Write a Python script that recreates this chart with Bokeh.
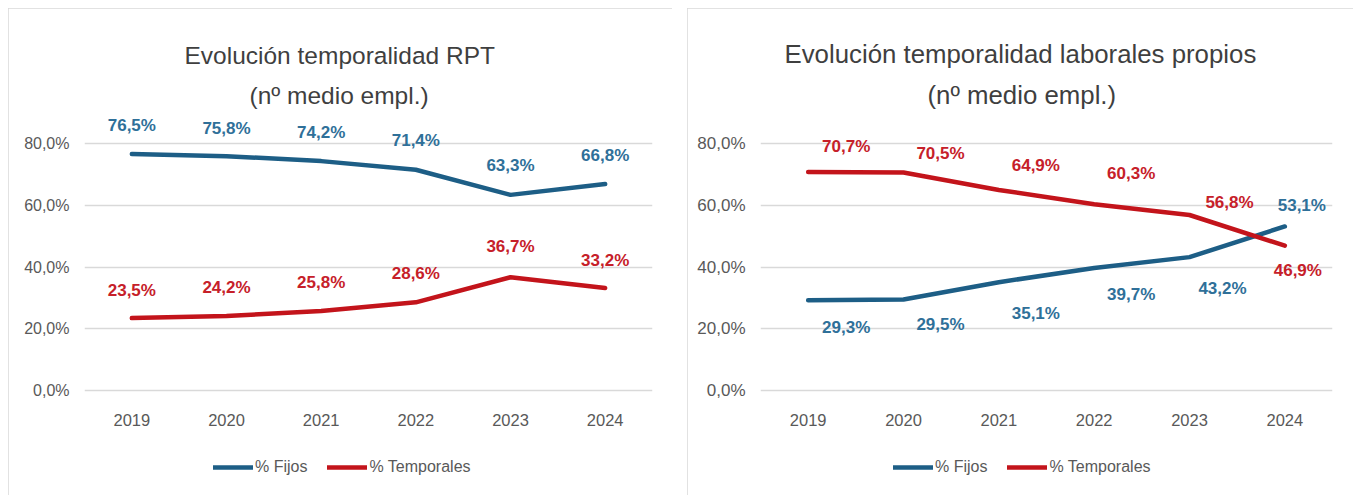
from bokeh.plotting import figure
from bokeh.models import (ColumnDataSource, FactorRange, Range1d, LabelSet, Legend,
                          LegendItem, Title, FixedTicker, Spacer)
from bokeh.layouts import row, column
from bokeh.embed import file_html
from bokeh.resources import INLINE
from bokeh.core.properties import value

# ---------------- data ----------------
years = ["2019", "2020", "2021", "2022", "2023", "2024"]
rpt_fijos = [76.5, 75.8, 74.2, 71.4, 63.3, 66.8]
rpt_temporales = [23.5, 24.2, 25.8, 28.6, 36.7, 33.2]
lab_fijos = [29.3, 29.5, 35.1, 39.7, 43.2, 53.1]
lab_temporales = [70.7, 70.5, 64.9, 60.3, 56.8, 46.9]
y_ticks = [0, 20, 40, 60, 80]
y_tick_labels = ["0,0%", "20,0%", "40,0%", "60,0%", "80,0%"]
title_left = "Evolución temporalidad RPT"
title_right = "Evolución temporalidad laborales propios"
subtitle = "(nº medio empl.)"
series_names = ["% Fijos", "% Temporales"]

# ---------------- label placement (px) ----------------
left_fijos_dx = [0, 0, 0, 0, 0, 0]
left_fijos_dy = [28, 28, 29, 29, 29, 29]
left_temp_dx = [0, 0, 0, 0, 0, 0]
left_temp_dy = [28, 28, 28, 29, 31, 28]
right_fijos_dx = [38, 37, 37, 37, 33, 17]
right_fijos_dy = [-27, -25, -31, -27, -31, 21]
right_temp_dx = [38, 37, 37, 37, 40, 13]
right_temp_dy = [25, 19, 24, 31, 12, -25]

FONT = "Liberation Sans"
BLUE_LINE = "#1D5E86"
BLUE_TEXT = "#2F7099"
RED_LINE = "#C3141B"
RED_TEXT = "#C62029"
GRAY = "#595959"
TITLE_GRAY = "#3F3F3F"
GRID = "#D9D9D9"


def fmt(v):
    return ("%.1f" % v).replace(".", ",") + "%"


def make_chart(title, fijos, temporales, f_dx, f_dy, t_dx, t_dy,
               width, border_left, border_right, title_off, sub_off, legend_x,
               title_size, tick_size):
    p = figure(x_range=FactorRange(*years), y_range=Range1d(-31.2, 89.9),
               width=width, height=487, output_backend="svg",
               toolbar_location=None, min_border_left=border_left,
               min_border_right=border_right, min_border_top=104,
               min_border_bottom=8)
    p.title = Title(text=title, align="left", offset=title_off,
                    text_font=FONT, text_font_size=title_size,
                    text_font_style="normal", text_color=TITLE_GRAY,
                    standoff=14)
    p.add_layout(Title(text=subtitle, align="left", offset=sub_off,
                       text_font=FONT, text_font_size=title_size,
                       text_font_style="normal", text_color=TITLE_GRAY,
                       standoff=8), "above")
    p.outline_line_color = None
    p.styles = {"outline": "1px solid #D9D9D9", "outline-offset": "-1px"}
    p.background_fill_color = "white"
    p.border_fill_color = "white"

    p.xgrid.visible = False
    p.ygrid.grid_line_color = GRID
    p.ygrid.grid_line_width = 1.5
    p.yaxis.ticker = FixedTicker(ticks=y_ticks)
    p.yaxis.major_label_overrides = dict(zip(y_ticks, y_tick_labels))
    p.xaxis.fixed_location = 0
    for ax in (p.xaxis[0], p.yaxis[0]):
        ax.axis_line_color = None
        ax.major_tick_line_color = None
        ax.minor_tick_line_color = None
        ax.major_tick_out = 0
        ax.major_tick_in = 0
        ax.major_label_text_font = FONT
        ax.major_label_text_color = GRAY
    p.yaxis.major_label_text_font_size = tick_size
    p.yaxis.major_label_standoff = 15
    p.xaxis.major_label_text_font_size = "16.5px"
    p.xaxis.major_label_standoff = 23

    src = ColumnDataSource(dict(
        year=years, fijos=fijos, temporales=temporales,
        f_txt=[fmt(v) for v in fijos], t_txt=[fmt(v) for v in temporales],
        f_dx=f_dx, f_dy=f_dy, t_dx=t_dx, t_dy=t_dy))

    rf = p.line(x="year", y="fijos", source=src, line_color=BLUE_LINE,
                line_width=4.5, line_join="round", line_cap="round")
    rt = p.line(x="year", y="temporales", source=src, line_color=RED_LINE,
                line_width=4.5, line_join="round", line_cap="round")

    for ycol, col, dx, dy, color in (("fijos", "f_txt", "f_dx", "f_dy", BLUE_TEXT),
                                     ("temporales", "t_txt", "t_dx", "t_dy", RED_TEXT)):
        p.add_layout(LabelSet(x="year", y=ycol, text=col, source=src,
                              x_offset=dx, y_offset=dy,
                              text_align="center", text_baseline="middle",
                              text_font=value(FONT), text_font_size=value("17px"),
                              text_font_style=value("bold"), text_color=color))

    legend = Legend(items=[LegendItem(label=series_names[0], renderers=[rf]),
                           LegendItem(label=series_names[1], renderers=[rt])],
                    orientation="horizontal", location=(legend_x, 10),
                    padding=0, margin=0, spacing=20, glyph_width=40,
                    glyph_height=20, label_height=20, label_standoff=2,
                    label_text_font=FONT, label_text_font_size="16px",
                    label_text_color=GRAY, border_line_color=None,
                    background_fill_alpha=0)
    p.add_layout(legend, "center")
    return p


p1 = make_chart(title_left, rpt_fijos, rpt_temporales,
                left_fijos_dx, left_fijos_dy, left_temp_dx, left_temp_dy,
                width=664, border_left=76, border_right=20,
                title_off=100, sub_off=165, legend_x=129,
                title_size="24.5px", tick_size="16px")
p2 = make_chart(title_right, lab_fijos, lab_temporales,
                right_fijos_dx, right_fijos_dy, right_temp_dx, right_temp_dy,
                width=666, border_left=73, border_right=21,
                title_off=24, sub_off=167, legend_x=133,
                title_size="25.8px", tick_size="17px")

layout = column(Spacer(height=8),
                row(Spacer(width=8), p1, Spacer(width=15), p2))
open("out.html", "w").write(file_html(layout, INLINE))
